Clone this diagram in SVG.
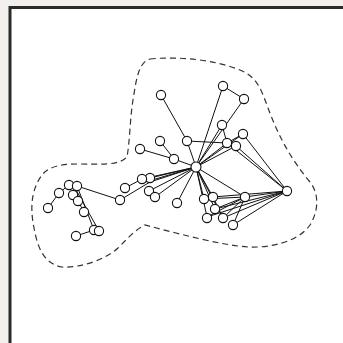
<svg xmlns="http://www.w3.org/2000/svg" width="343" height="343" viewBox="0 0 343 343">
<style>
.n{fill:#fff;stroke:#111;stroke-width:1.1}
.e line{stroke:#111;stroke-width:1}
.hull{fill:none;stroke:#333;stroke-width:1.2;stroke-dasharray:6 4}
</style>
<rect x="0" y="0" width="343" height="343" fill="#f2efec"/>
<rect x="10" y="7.5" width="400" height="400" fill="#fff" stroke="#2b2b2b" stroke-width="3"/>
<path class="hull" d="M150,59 C180,56 215,60 240,70 C258,77 262,92 268,108 C278,135 290,158 310,182 C320,195 318,212 310,225 C298,242 270,248 248,247 C220,245 180,234 145,225 C135,230 128,238 118,248 C105,260 80,268 62,267 C45,264 38,250 34,228 C30,208 31,190 42,175 C50,165 65,164 80,164 C100,164 118,166 127,157 C130,140 130,118 133,100 C136,82 138,62 150,59 Z"/>
<g class="e">
<line x1="196" y1="167" x2="187" y2="141"/>
<line x1="161" y1="95" x2="187" y2="141"/>
<line x1="187" y1="141" x2="227" y2="143"/>
<line x1="196" y1="167" x2="223" y2="86"/>
<line x1="196" y1="167" x2="244" y2="99"/>
<line x1="223" y1="86" x2="244" y2="99"/>
<line x1="196" y1="167" x2="222" y2="125"/>
<line x1="222" y1="125" x2="227" y2="143"/>
<line x1="196" y1="167" x2="227" y2="143"/>
<line x1="196" y1="167" x2="236" y2="146"/>
<line x1="196" y1="167" x2="243" y2="134"/>
<line x1="227" y1="143" x2="243" y2="134"/>
<line x1="243" y1="134" x2="287" y2="191"/>
<line x1="236" y1="146" x2="287" y2="191"/>
<line x1="227" y1="143" x2="287" y2="191"/>
<line x1="160" y1="141" x2="174" y2="159"/>
<line x1="174" y1="159" x2="196" y2="167"/>
<line x1="140" y1="149" x2="174" y2="159"/>
<line x1="196" y1="167" x2="150" y2="178"/>
<line x1="196" y1="167" x2="142" y2="179"/>
<line x1="196" y1="167" x2="142" y2="183"/>
<line x1="196" y1="167" x2="149" y2="191"/>
<line x1="196" y1="167" x2="155" y2="197"/>
<line x1="196" y1="167" x2="150" y2="182"/>
<line x1="125" y1="188" x2="142" y2="179"/>
<line x1="120" y1="200" x2="150" y2="182"/>
<line x1="196" y1="167" x2="177" y2="203"/>
<line x1="120" y1="200" x2="77" y2="186"/>
<line x1="69" y1="185" x2="59" y2="193"/>
<line x1="59" y1="193" x2="48" y2="208"/>
<line x1="77" y1="186" x2="94" y2="230"/>
<line x1="75" y1="188" x2="99" y2="231"/>
<line x1="73" y1="195" x2="78" y2="201"/>
<line x1="78" y1="201" x2="84" y2="212"/>
<line x1="76" y1="236" x2="94" y2="230"/>
<line x1="196" y1="167" x2="204" y2="199"/>
<line x1="196" y1="167" x2="213" y2="197"/>
<line x1="196" y1="167" x2="215" y2="209"/>
<line x1="196" y1="167" x2="207" y2="217"/>
<line x1="196" y1="167" x2="223" y2="218"/>
<line x1="196" y1="167" x2="245" y2="197"/>
<line x1="287" y1="191" x2="245" y2="197"/>
<line x1="287" y1="191" x2="213" y2="197"/>
<line x1="287" y1="191" x2="215" y2="209"/>
<line x1="287" y1="191" x2="207" y2="217"/>
<line x1="287" y1="191" x2="223" y2="218"/>
<line x1="287" y1="191" x2="233" y2="225"/>
<line x1="245" y1="197" x2="215" y2="209"/>
<line x1="245" y1="197" x2="207" y2="217"/>
<line x1="245" y1="197" x2="223" y2="218"/>
<line x1="245" y1="197" x2="233" y2="225"/>
<line x1="245" y1="197" x2="204" y2="199"/>
<line x1="213" y1="197" x2="223" y2="218"/>
</g>
<g id="nodes">
<circle id="n1" class="n" cx="161" cy="95" r="4.6"/>
<circle id="n2" class="n" cx="223" cy="86" r="4.6"/>
<circle id="n3" class="n" cx="244" cy="99" r="4.6"/>
<circle id="n4" class="n" cx="222" cy="125" r="4.6"/>
<circle id="n5" class="n" cx="243" cy="134" r="4.6"/>
<circle id="n6" class="n" cx="227" cy="143" r="4.6"/>
<circle id="n7" class="n" cx="236" cy="146" r="4.6"/>
<circle id="n8" class="n" cx="187" cy="141" r="4.6"/>
<circle id="n9" class="n" cx="160" cy="141" r="4.6"/>
<circle id="n10" class="n" cx="140" cy="149" r="4.6"/>
<circle id="n11" class="n" cx="174" cy="159" r="4.6"/>
<circle id="n12" class="n" cx="150" cy="178" r="4.6"/>
<circle id="n13" class="n" cx="142" cy="179" r="4.6"/>
<circle id="n14" class="n" cx="125" cy="188" r="4.6"/>
<circle id="n15" class="n" cx="149" cy="191" r="4.6"/>
<circle id="n16" class="n" cx="155" cy="197" r="4.6"/>
<circle id="n17" class="n" cx="120" cy="200" r="4.6"/>
<circle id="n18" class="n" cx="177" cy="203" r="4.6"/>
<circle id="n19" class="n" cx="287" cy="191" r="4.6"/>
<circle id="n20" class="n" cx="204" cy="199" r="4.6"/>
<circle id="n21" class="n" cx="213" cy="197" r="4.6"/>
<circle id="n22" class="n" cx="245" cy="197" r="4.6"/>
<circle id="n23" class="n" cx="215" cy="209" r="4.6"/>
<circle id="n24" class="n" cx="207" cy="218" r="4.6"/>
<circle id="n25" class="n" cx="223" cy="218" r="4.6"/>
<circle id="n26" class="n" cx="233" cy="225" r="4.6"/>
<circle id="n27" class="n" cx="69" cy="185" r="4.6"/>
<circle id="n28" class="n" cx="77" cy="186" r="4.6"/>
<circle id="n29" class="n" cx="59" cy="193" r="4.6"/>
<circle id="n30" class="n" cx="73" cy="195" r="4.6"/>
<circle id="n31" class="n" cx="78" cy="201" r="4.6"/>
<circle id="n32" class="n" cx="48" cy="208" r="4.6"/>
<circle id="n33" class="n" cx="84" cy="212" r="4.6"/>
<circle id="n34" class="n" cx="94" cy="230" r="4.6"/>
<circle id="n35" class="n" cx="99" cy="231" r="4.6"/>
<circle id="n36" class="n" cx="76" cy="236" r="4.6"/>
<circle id="hub" class="n" cx="196" cy="167" r="5"/>
</g>
</svg>
